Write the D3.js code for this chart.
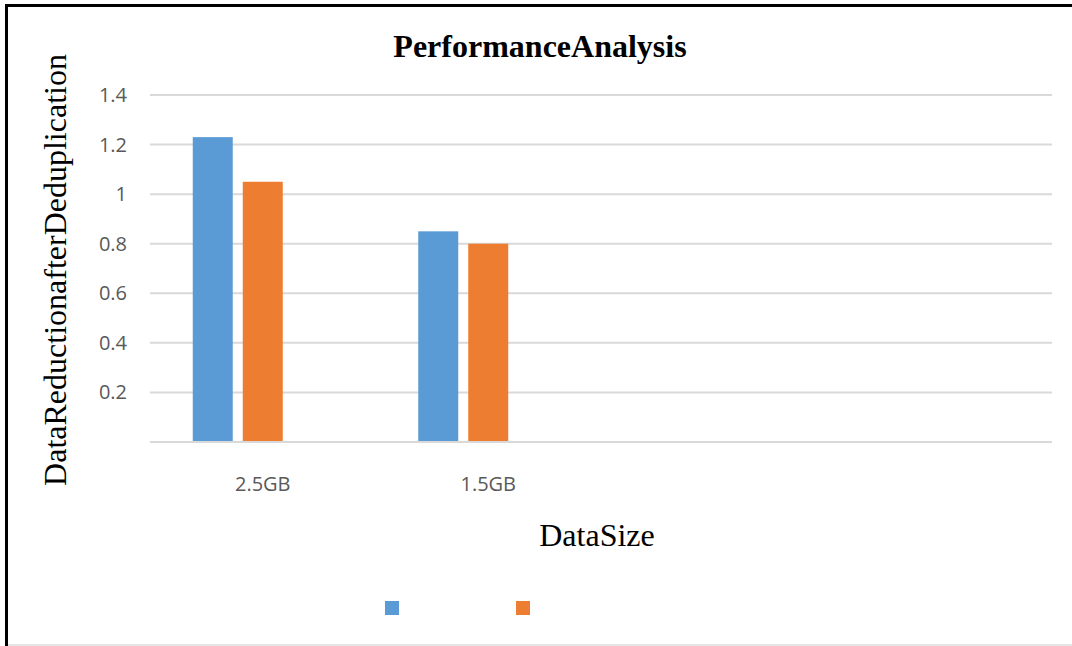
<!DOCTYPE html>
<html>
<head>
<meta charset="utf-8">
<script src="https://cdn.jsdelivr.net/npm/d3@7"></script>
<style>
  html, body { margin: 0; padding: 0; background: #fff; }
  svg { display: block; }
</style>
</head>
<body>
<svg id="chart" width="1072" height="646"></svg>
<script>
// ---- data ----
const categories = ["2.5GB", "1.5GB", "", ""];
const seriesBlue = [1.23, 0.85, null, null];
const seriesOrange = [1.05, 0.80, null, null];
const seriesThird = [null, null, null, null]; // empty third series (reserves a slot)
const yTicks = [0.2, 0.4, 0.6, 0.8, 1, 1.2, 1.4];
const titleText = "PerformanceAnalysis";
const yLabel = "DataReductionafterDeduplication";
const xLabel = "DataSize";

const series = [
  { name: "", values: seriesBlue, color: "#5b9bd5", legend: true },
  { name: "", values: seriesOrange, color: "#ed7d31", legend: true },
  { name: "", values: seriesThird, color: "#a5a5a5", legend: false }
];

const svg = d3.select("#chart");
const W = 1072, H = 646;
const plot = { left: 150, right: 1052, top: 95, bottom: 442 };

// frame
svg.append("rect").attr("x", 0).attr("y", 0).attr("width", W).attr("height", H).attr("fill", "#fff");
svg.append("line").attr("x1", 5).attr("x2", W).attr("y1", 5.5).attr("y2", 5.5)
  .attr("stroke", "#000").attr("stroke-width", 3);
svg.append("line").attr("x1", 6.5).attr("x2", 6.5).attr("y1", 4).attr("y2", H)
  .attr("stroke", "#000").attr("stroke-width", 3);
svg.append("line").attr("x1", 8).attr("x2", W).attr("y1", 645).attr("y2", 645)
  .attr("stroke", "#dcdcdc").attr("stroke-width", 1.5);

// scales
const y = d3.scaleLinear().domain([0, 1.4]).range([plot.bottom, plot.top]);
const x = d3.scaleBand().domain(d3.range(categories.length)).range([plot.left, plot.right]);
const bw = x.bandwidth();
const groupW = 140;
const x1 = d3.scaleBand().domain(d3.range(series.length))
  .range([(bw - groupW) / 2, (bw + groupW) / 2]).paddingInner(0.2);

// gridlines
svg.append("g").selectAll("line").data(yTicks).join("line")
  .attr("x1", plot.left).attr("x2", plot.right)
  .attr("y1", d => y(d)).attr("y2", d => y(d))
  .attr("stroke", "#d9d9d9").attr("stroke-width", 2);

// y tick labels
svg.append("g").selectAll("text").data(yTicks).join("text")
  .attr("x", 127).attr("y", d => y(d))
  .attr("dy", "0.35em")
  .attr("text-anchor", "end")
  .attr("font-family", "'Open Sans', sans-serif")
  .attr("font-size", 20)
  .attr("fill", "#595959")
  .text(d => d3.format("~g")(d));

// bars
series.forEach((s, si) => {
  svg.append("g").selectAll("rect")
    .data(s.values.map((v, i) => ({ v, i })).filter(d => d.v != null))
    .join("rect")
    .attr("x", d => x(d.i) + x1(si))
    .attr("width", x1.bandwidth())
    .attr("y", d => y(d.v))
    .attr("height", d => y(0) - y(d.v))
    .attr("fill", s.color);
});

// x axis line
svg.append("line").attr("x1", plot.left).attr("x2", plot.right)
  .attr("y1", y(0)).attr("y2", y(0))
  .attr("stroke", "#d9d9d9").attr("stroke-width", 2);

// x tick labels
svg.append("g").selectAll("text").data(categories).join("text")
  .attr("x", (d, i) => x(i) + bw / 2)
  .attr("y", 491)
  .attr("text-anchor", "middle")
  .attr("font-family", "'Open Sans', sans-serif")
  .attr("font-size", 20)
  .attr("fill", "#595959")
  .text(d => d);

// title
svg.append("text").attr("x", 540).attr("y", 57)
  .attr("text-anchor", "middle")
  .attr("font-family", "'Liberation Serif', 'Times New Roman', serif")
  .attr("font-weight", "bold")
  .attr("font-size", 32)
  .attr("fill", "#000")
  .text(titleText);

// y label
svg.append("text")
  .attr("transform", "translate(66,270) rotate(-90)")
  .attr("text-anchor", "middle")
  .attr("font-family", "'Liberation Serif', 'Times New Roman', serif")
  .attr("font-size", 32)
  .attr("fill", "#000")
  .text(yLabel);

// x label
svg.append("text").attr("x", 597).attr("y", 546)
  .attr("text-anchor", "middle")
  .attr("font-family", "'Liberation Serif', 'Times New Roman', serif")
  .attr("font-size", 32)
  .attr("fill", "#000")
  .text(xLabel);

// legend
const legendItems = series.filter(s => s.legend);
const lg = svg.append("g").selectAll("g").data(legendItems).join("g")
  .attr("transform", (d, i) => `translate(${385 + i * 131},601)`);
lg.append("rect").attr("width", 14).attr("height", 14).attr("fill", d => d.color);
lg.append("text").attr("x", 20).attr("y", 7).attr("dy", "0.35em")
  .attr("font-family", "'Open Sans', sans-serif").attr("font-size", 18)
  .attr("fill", "#595959").text(d => d.name);
</script>
</body>
</html>
